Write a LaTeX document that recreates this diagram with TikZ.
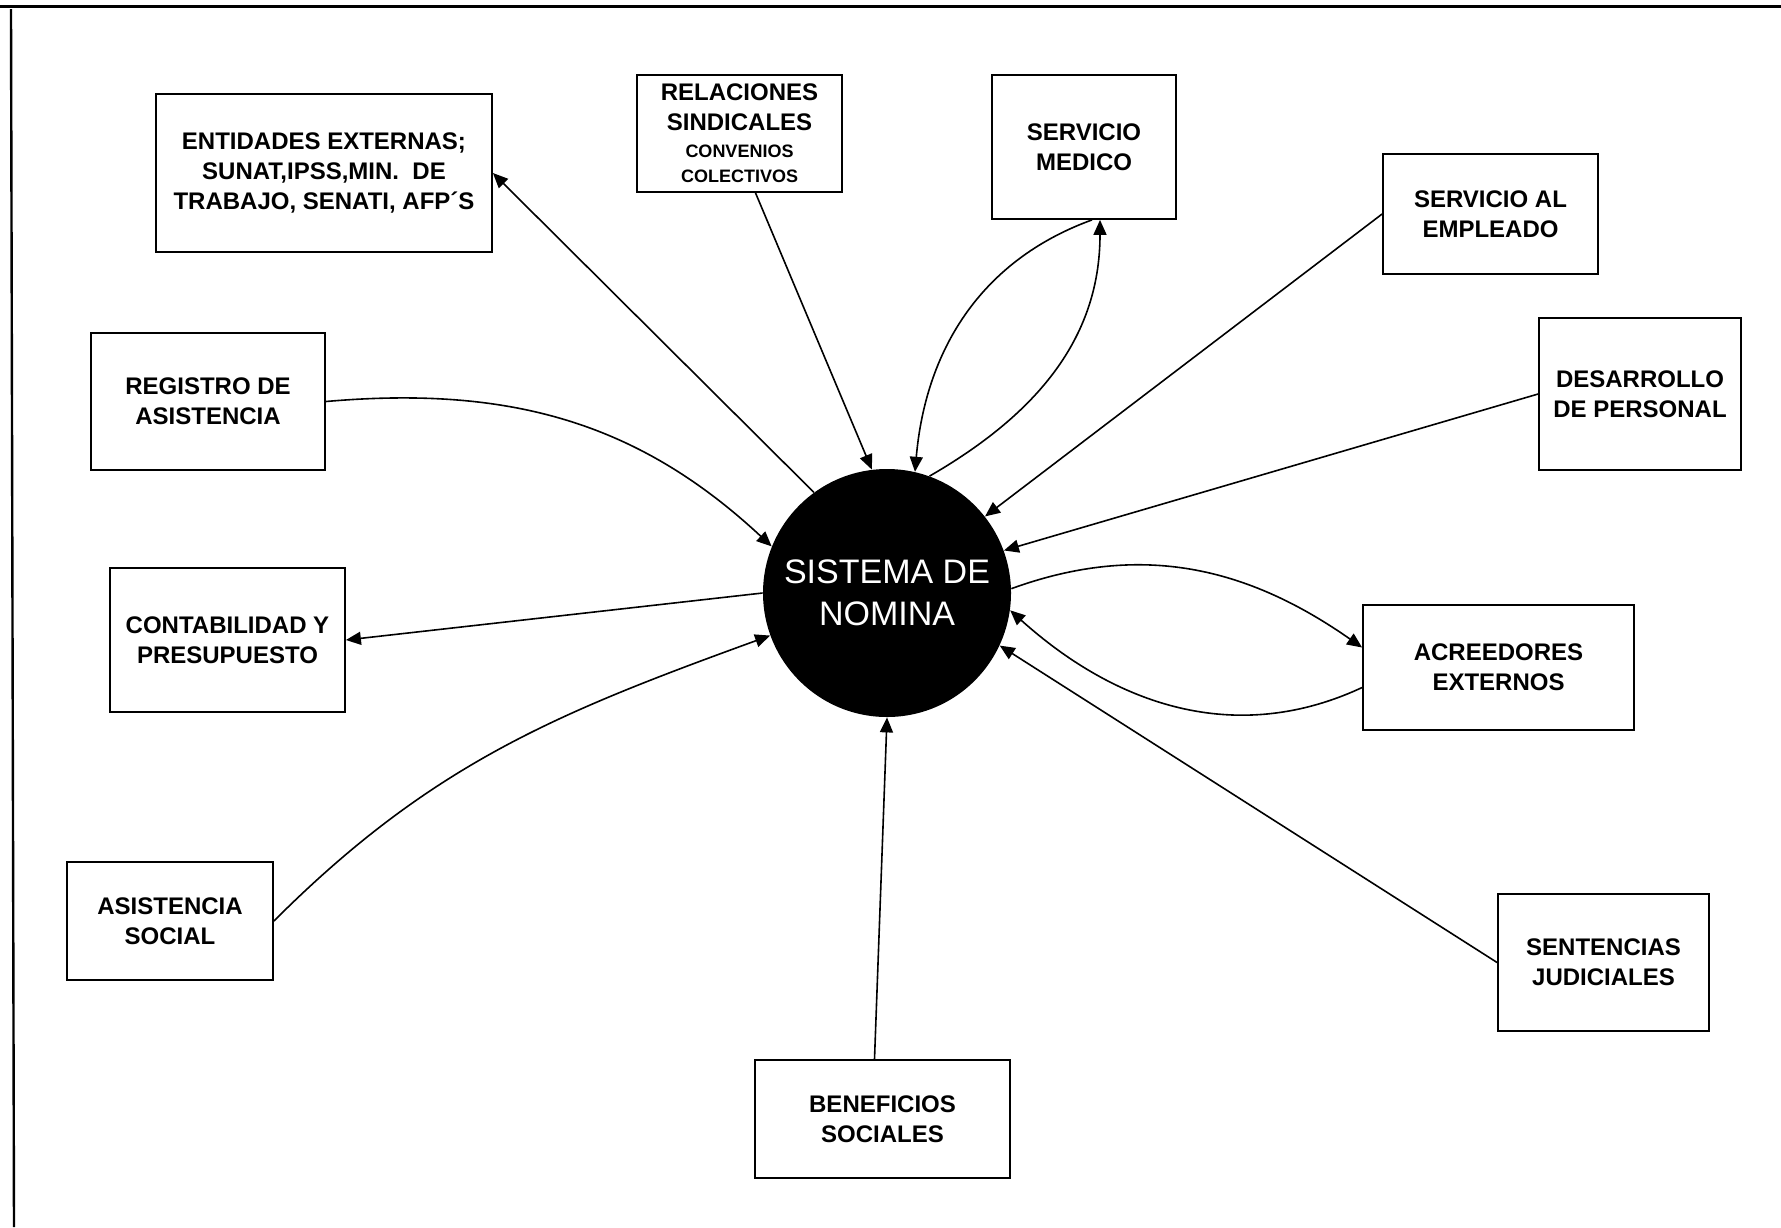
\documentclass[tikz,border=0pt]{standalone}
\usepackage{fontspec}
\setmainfont{Liberation Sans}
\usepackage{tikz}
\usetikzlibrary{arrows.meta}
\newcommand{\subtxt}[1]{{\fontsize{9}{11}\selectfont #1}}

\begin{document}
\begin{tikzpicture}[
    x=0.5pt, y=0.5pt,
    box/.style={rectangle, draw, line width=0.9pt, align=center, inner sep=2pt, font=\fontsize{12}{15}\selectfont\bfseries},
    core/.style={circle, fill=black, text=white, minimum size=124pt, inner sep=0pt, align=center, font=\fontsize{17}{21}\selectfont},
    arrow/.style={line width=0.8pt, -{Triangle[length=7.5pt,width=6.5pt]}}
  ]
    \useasboundingbox (0,0) rectangle (1781,-1227);

    % page frame (top and left only)
    \draw[line width=1.5pt] (0,-6) -- (1781,-6);
    \draw[line width=1.2pt] (11,-9) -- (14,-1227);

    % central system
    \node[core] (nomina) at (887,-593) {SISTEMA DE\\NOMINA};

    % surrounding areas
    \node[box, minimum width=168pt, minimum height=79pt] (ext) at (324,-173) {ENTIDADES EXTERNAS;\\SUNAT,IPSS,MIN.\ \ DE\\TRABAJO, SENATI, AFP´S};
    \node[box, minimum width=102.5pt, minimum height=58.5pt] (rel) at (739.5,-133.5) {RELACIONES\\SINDICALES\\[-1.5pt]\subtxt{CONVENIOS}\\[-2.5pt]\subtxt{COLECTIVOS}};
    \node[box, minimum width=92pt, minimum height=72pt] (med) at (1084,-147) {SERVICIO\\MEDICO};
    \node[box, minimum width=107.5pt, minimum height=60pt] (emp) at (1490.5,-214) {SERVICIO AL\\EMPLEADO};
    \node[box, minimum width=101pt, minimum height=76pt] (des) at (1640,-394) {DESARROLLO\\DE PERSONAL};
    \node[box, minimum width=117pt, minimum height=68.5pt] (reg) at (208,-401.5) {REGISTRO DE\\ASISTENCIA};
    \node[box, minimum width=117.5pt, minimum height=72pt] (con) at (227.5,-640) {CONTABILIDAD Y\\PRESUPUESTO};
    \node[box, minimum width=135.5pt, minimum height=62.5pt] (acr) at (1498.5,-667.5) {ACREEDORES\\EXTERNOS};
    \node[box, minimum width=103pt, minimum height=59pt] (asi) at (170,-921) {ASISTENCIA\\SOCIAL};
    \node[box, minimum width=127.5pt, minimum height=59pt] (ben) at (882.5,-1119) {BENEFICIOS\\SOCIALES};
    \node[box, minimum width=105.5pt, minimum height=68.5pt] (sen) at (1603.5,-962.5) {SENTENCIAS\\JUDICIALES};

    % flows
    \draw[arrow] (nomina.126) -- (ext.east);
    \draw[arrow] ([xshift=8pt]rel.south) -- (nomina.97);
    \draw[arrow] ([xshift=4pt]med.south) to[out=200, in=85] (nomina.77);
    \draw[arrow] (nomina.70) to[out=30, in=-90] ([xshift=8pt]med.south);
    \draw[arrow] (emp.west) -- (nomina.38);
    \draw[arrow] (des.west) -- (nomina.20);
    \draw[arrow] (nomina.2) to[out=20, in=145] ([yshift=10pt]acr.west);
    \draw[arrow] ([yshift=-10pt]acr.west) to[out=205, in=-42] (nomina.-8);
    \draw[arrow] (sen.west) -- (nomina.-25);
    \draw[arrow] ([xshift=-4pt]ben.north) -- (nomina.-90);
    \draw[arrow] (asi.east) to[out=45, in=200] (nomina.200);
    \draw[arrow] (nomina.180) -- (con.east);
    \draw[arrow] (reg.east) to[out=5, in=137] (nomina.158);
\end{tikzpicture}
\end{document}
